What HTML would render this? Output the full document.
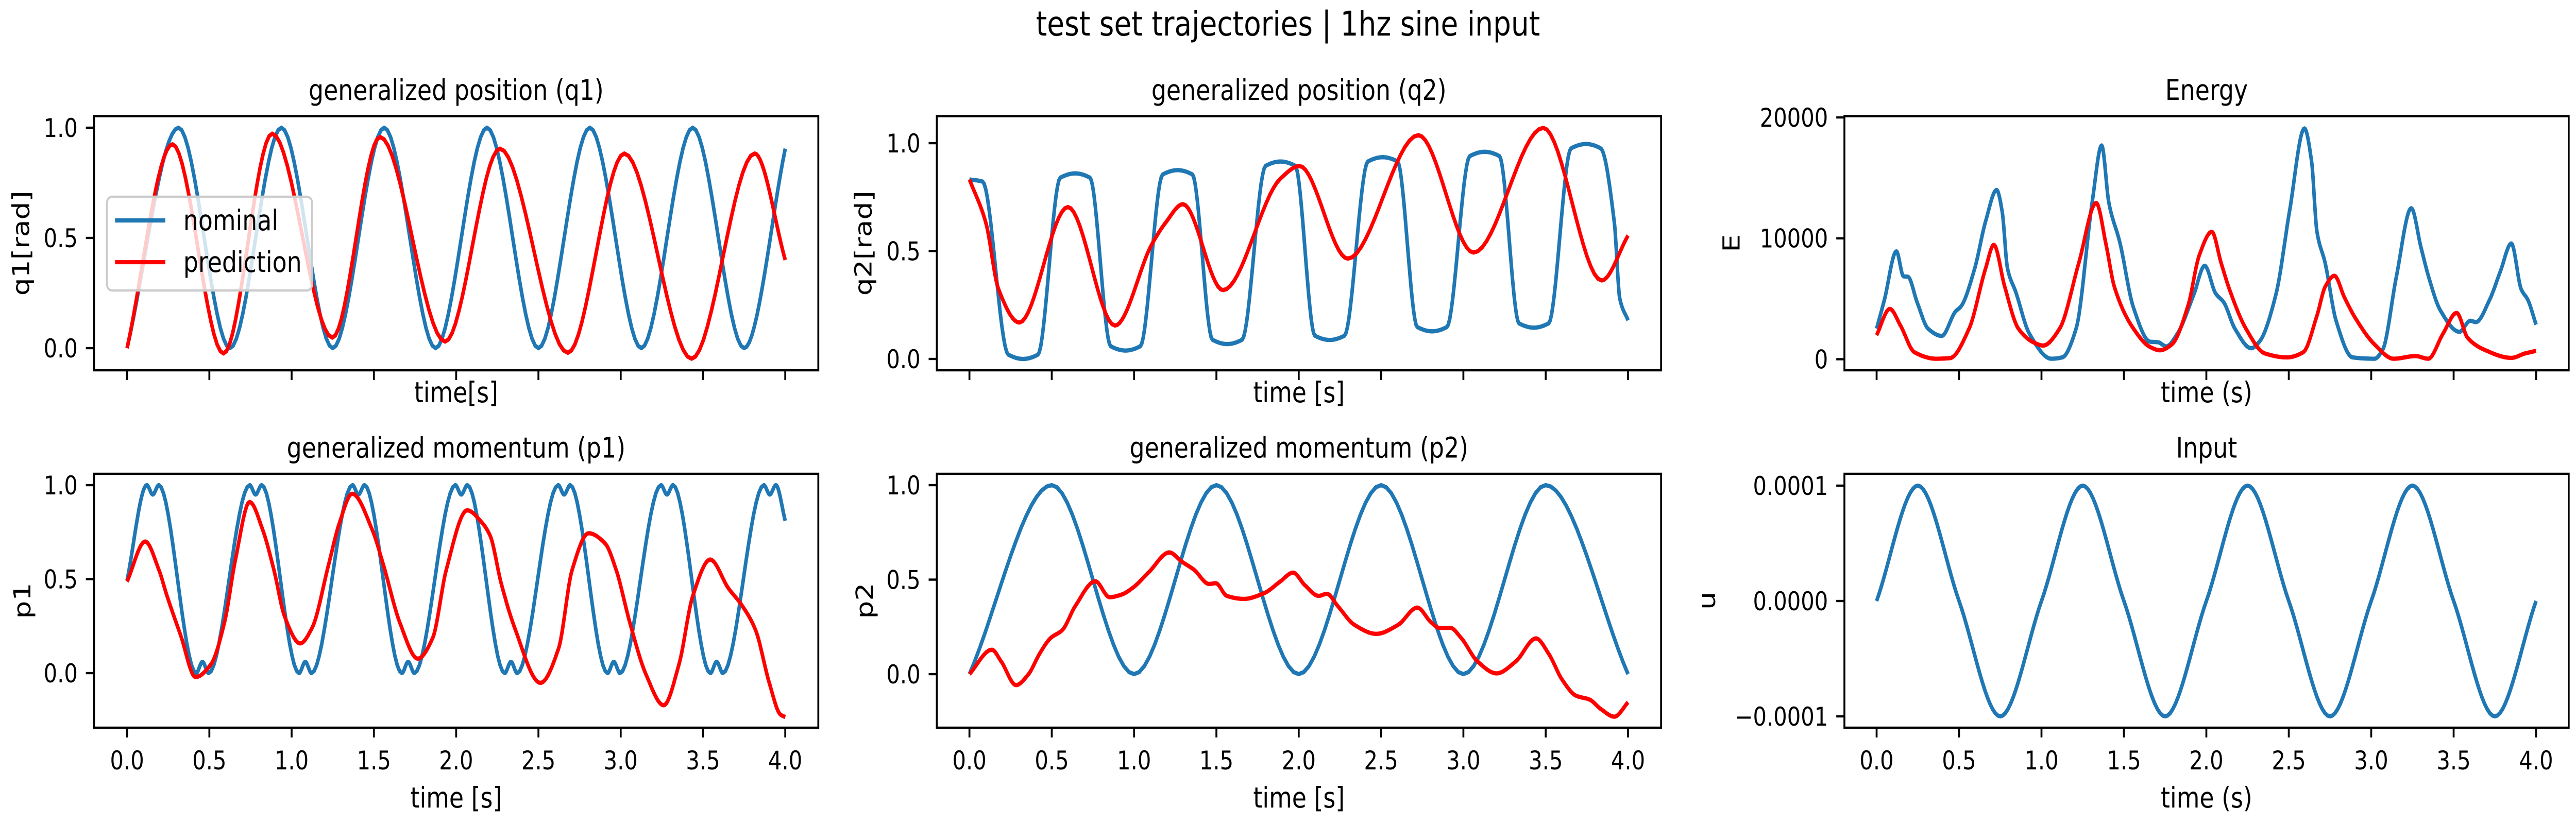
<!DOCTYPE html>
<html><head><meta charset="utf-8"><title>test set trajectories</title>
<style>
html,body{margin:0;padding:0;background:#fff;overflow:hidden;width:100vw;height:100vh;}
svg{display:block;width:100vw;height:100vh;font-family:"DejaVu Sans","Liberation Sans",sans-serif;}
</style></head>
<body>
<svg id="fig" viewBox="0 0 6000 1600" preserveAspectRatio="none" xmlns="http://www.w3.org/2000/svg">
<rect x="0" y="0" width="6000" height="1600" fill="#fff"/>
<text x="3000" y="69" font-size="66" text-anchor="middle">test set trajectories | 1hz sine input</text>
<g id="plots"></g>
</svg>
<script>
// ---------- data ----------
const xTickValues = [0, 0.5, 1.0, 1.5, 2.0, 2.5, 3.0, 3.5, 4.0];
const xTickLabels = ["0.0","0.5","1.0","1.5","2.0","2.5","3.0","3.5","4.0"];

const q1NomT = [0,0.3125,0.625,0.9375,1.25,1.5625,1.875,2.1875,2.5,2.8125,3.125,3.4375,3.75,4.0];
const q1NomV = [0,1,0,1,0,1,0,1,0,1,0,1,0,0.905];
const q1PredT = [0,0.276,0.586,0.882,1.248,1.537,1.933,2.266,2.679,3.022,3.431,3.814,4.0];
const q1PredV = [0,0.925,-0.024,0.973,0.048,0.958,0.030,0.905,-0.021,0.883,-0.048,0.883,0.40];

const q2NomT = [0,0.08,0.236,0.326,0.416,0.552,0.642,0.732,0.858,0.948,1.038,1.174,1.264,1.354,1.476,1.566,1.656,1.799,1.889,1.979,2.098,2.188,2.278,2.42,2.51,2.6,2.72,2.81,2.9,3.039,3.129,3.219,3.338,3.428,3.518,3.654,3.744,3.834,3.917,3.95,4.0];
const q2NomV = [0.832,0.822,0.02,0.0,0.02,0.84,0.86,0.84,0.059,0.039,0.059,0.855,0.875,0.855,0.089,0.069,0.089,0.895,0.915,0.895,0.108,0.088,0.108,0.915,0.935,0.915,0.148,0.128,0.148,0.94,0.96,0.94,0.165,0.145,0.165,0.976,0.996,0.976,0.63,0.28,0.179];
const q2PredT = [0,0.1,0.176,0.303,0.598,0.884,1.107,1.19,1.297,1.54,1.889,2.005,2.298,2.727,3.062,3.485,3.84,4.0];
const q2PredV = [0.832,0.63,0.325,0.169,0.704,0.155,0.53,0.63,0.717,0.319,0.836,0.894,0.465,1.037,0.493,1.071,0.364,0.572];

const eNomT = [0,0.047,0.12,0.163,0.19,0.246,0.312,0.395,0.478,0.512,0.595,0.661,0.728,0.761,0.794,0.844,0.927,1.06,1.126,1.21,1.309,1.365,1.409,1.475,1.558,1.658,1.708,1.757,1.824,1.924,1.99,2.056,2.106,2.173,2.272,2.322,2.422,2.505,2.595,2.638,2.671,2.721,2.787,2.887,3.02,3.07,3.153,3.243,3.302,3.352,3.419,3.535,3.601,3.635,3.718,3.784,3.85,3.91,3.95,4.0];
const eNomV = [2530,4900,8920,6860,6820,4700,2530,1930,3940,4370,7510,11400,14000,12270,7510,5560,2100,40,150,2530,13140,17680,12920,9680,4260,1450,1400,1060,2100,5350,7730,5450,4700,2530,910,1450,5350,12270,19090,16390,10540,7940,3180,150,40,800,6860,12490,9240,6640,4050,2270,3180,3070,4910,7290,9570,5780,4910,2860];
const ePredT = [0,0.08,0.146,0.229,0.362,0.445,0.561,0.661,0.711,0.777,0.86,0.96,1.01,1.11,1.226,1.332,1.392,1.442,1.558,1.658,1.718,1.791,1.89,1.957,2.033,2.09,2.14,2.24,2.355,2.488,2.588,2.671,2.721,2.777,2.837,2.904,3.02,3.136,3.269,3.346,3.435,3.518,3.585,3.684,3.85,3.934,4.0];
const ePredV = [1990,4160,2750,580,40,90,2530,7510,9460,6000,2530,1340,1130,2530,7940,12920,9460,6000,2530,1020,740,1230,4480,8590,10540,7940,5780,2530,480,150,580,3610,6000,6900,5130,3400,1230,40,260,40,2100,3830,1770,800,110,480,690];

const p1NomT = [0,0.12,0.156,0.193,0.42,0.458,0.496,0.745,0.781,0.818,1.045,1.083,1.121,1.37,1.406,1.443,1.67,1.708,1.746,1.995,2.031,2.068,2.295,2.333,2.371,2.62,2.656,2.693,2.92,2.958,2.996,3.245,3.281,3.318,3.545,3.583,3.621,3.87,3.906,3.943,4.0];
const p1NomV = [0.494,1,0.95,1,0,0.06,0,1,0.95,1,0,0.06,0,1,0.95,1,0,0.06,0,1,0.95,1,0,0.06,0,1,0.95,1,0,0.06,0,1,0.95,1,0,0.06,0,1,0.95,1,0.81];
const p1PredT = [0,0.11,0.193,0.243,0.326,0.416,0.509,0.592,0.659,0.745,0.825,0.892,0.958,1.052,1.125,1.225,1.291,1.368,1.491,1.557,1.657,1.767,1.857,1.94,2.067,2.157,2.207,2.273,2.356,2.512,2.622,2.705,2.805,2.905,2.972,3.055,3.155,3.261,3.354,3.438,3.544,3.654,3.737,3.82,3.903,3.97,4.0];
const p1PredV = [0.487,0.70,0.55,0.41,0.20,-0.021,0.046,0.27,0.606,0.91,0.76,0.55,0.30,0.158,0.242,0.578,0.80,0.954,0.76,0.578,0.27,0.077,0.186,0.55,0.866,0.80,0.73,0.48,0.24,-0.052,0.13,0.55,0.744,0.69,0.55,0.27,-0.01,-0.171,0.046,0.41,0.604,0.452,0.36,0.228,-0.052,-0.22,-0.234];

const p2NomT = [0,0.5,1.0,1.5,2.0,2.5,3.0,3.5,4.0];
const p2NomV = [0,1,0,1,0,1,0,1,0];
const p2PredT = [0,0.136,0.193,0.283,0.359,0.426,0.492,0.565,0.642,0.765,0.851,0.924,0.991,1.09,1.214,1.29,1.363,1.456,1.496,1.563,1.666,1.789,1.889,1.965,2.038,2.121,2.171,2.238,2.338,2.471,2.604,2.72,2.803,2.853,2.92,2.986,3.086,3.202,3.318,3.441,3.518,3.601,3.684,3.767,3.834,3.917,4.0];
const p2PredV = [0,0.129,0.067,-0.058,0,0.108,0.19,0.234,0.359,0.491,0.407,0.421,0.456,0.54,0.644,0.595,0.553,0.477,0.481,0.414,0.398,0.428,0.491,0.537,0.47,0.414,0.425,0.359,0.261,0.213,0.261,0.352,0.275,0.245,0.245,0.192,0.067,0.004,0.067,0.189,0.108,-0.031,-0.114,-0.135,-0.184,-0.225,-0.149];

const uT = [0,0.25,0.5,0.75,1.0,1.25,1.5,1.75,2.0,2.25,2.5,2.75,3.0,3.25,3.5,3.75,4.0];
const uV = [0,0.0001,0,-0.0001,0,0.0001,0,-0.0001,0,0.0001,0,-0.0001,0,0.0001,0,-0.0001,0];

const tickQ = [0, 0.5, 1.0];
const tickQLabels = ["0.0","0.5","1.0"];
const tickE = [0, 10000, 20000];
const tickELabels = ["0","10000","20000"];
const tickU = [-0.0001, 0, 0.0001];
const tickULabels = ["\u22120.0001","0.0000","0.0001"];

// ---------- layout ----------
const NS = "http://www.w3.org/2000/svg";
const BLUE = "#1f77b4", RED = "#ff0000";
const panels = [
 {name:"q1-panel", title:"generalized position (q1)", L:219,R:1906,T:225.5,B:719, x0:296,x4:1829, vA:0,pA:676,vB:1,pB:248,
  yt:tickQ, ytl:tickQLabels, ylab:"q1[rad]", ylx:48, xlab:"time[s]", showX:false,
  series:[["nominal",q1NomT,q1NomV,BLUE],["prediction",q1PredT,q1PredV,RED]], legend:true},
 {name:"q2-panel", title:"generalized position (q2)", L:2182,R:3869,T:225.5,B:719, x0:2258,x4:3792, vA:0,pA:697,vB:1,pB:278,
  yt:tickQ, ytl:tickQLabels, ylab:"q2[rad]", ylx:2010, xlab:"time [s]", showX:false,
  series:[["nominal",q2NomT,q2NomV,BLUE],["prediction",q2PredT,q2PredV,RED]]},
 {name:"energy-panel", title:"Energy", L:4296,R:5983,T:225.5,B:719, x0:4371,x4:5907, vA:0,pA:697.5,vB:20000,pB:228,
  yt:tickE, ytl:tickELabels, ylab:"E", ylx:4032, xlab:"time (s)", showX:false,
  series:[["nominal",eNomT,eNomV,BLUE],["prediction",ePredT,ePredV,RED]]},
 {name:"p1-panel", title:"generalized momentum (p1)", L:219,R:1906,T:920,B:1413, x0:296,x4:1829, vA:0,pA:1307,vB:1,pB:942,
  yt:tickQ, ytl:tickQLabels, ylab:"p1", ylx:51, xlab:"time [s]", showX:true,
  series:[["nominal",p1NomT,p1NomV,BLUE],["prediction",p1PredT,p1PredV,RED]]},
 {name:"p2-panel", title:"generalized momentum (p2)", L:2182,R:3869,T:920,B:1413, x0:2258,x4:3792, vA:0,pA:1309,vB:1,pB:942,
  yt:tickQ, ytl:tickQLabels, ylab:"p2", ylx:2013, xlab:"time [s]", showX:true,
  series:[["nominal",p2NomT,p2NomV,BLUE],["prediction",p2PredT,p2PredV,RED]]},
 {name:"input-panel", title:"Input", L:4296,R:5983,T:920,B:1413, x0:4371,x4:5907, vA:0,pA:1167,vB:0.0001,pB:943,
  yt:tickU, ytl:tickULabels, ylab:"u", ylx:3975, xlab:"time (s)", showX:true,
  series:[["input",uT,uV,BLUE]]}
];

function mk(tag, attrs, parent){
  const e = document.createElementNS(NS, tag);
  for (const k in attrs) e.setAttribute(k, attrs[k]);
  parent.appendChild(e);
  return e;
}

// Fritsch-Carlson monotone cubic
function monotone(xs, ys){
  const n = xs.length, d = [], m = new Array(n);
  for (let i=0;i<n-1;i++) d.push((ys[i+1]-ys[i])/(xs[i+1]-xs[i]));
  m[0] = d[0]; m[n-1] = d[n-2];
  for (let i=1;i<n-1;i++){
    if (d[i-1]*d[i] <= 0) m[i] = 0;
    else {
      const h0 = xs[i]-xs[i-1], h1 = xs[i+1]-xs[i];
      const w1 = 2*h1+h0, w2 = h1+2*h0;
      m[i] = (w1+w2)/(w1/d[i-1]+w2/d[i]);
    }
  }
  const pts = [];
  for (let i=0;i<n-1;i++){
    const h = xs[i+1]-xs[i], S = 16;
    for (let s=0;s<S;s++){
      const u = s/S, u2=u*u, u3=u2*u;
      const y = (2*u3-3*u2+1)*ys[i] + (u3-2*u2+u)*h*m[i] + (-2*u3+3*u2)*ys[i+1] + (u3-u2)*h*m[i+1];
      pts.push([xs[i]+u*h, y]);
    }
  }
  pts.push([xs[n-1], ys[n-1]]);
  return pts;
}

const root = document.getElementById("plots");
panels.forEach(p => {
  const g = mk("g", {}, root);
  
  
  const xs = t => p.x0 + t/4*(p.x4-p.x0);
  const ys = v => p.pA + (v-p.vA)*(p.pB-p.pA)/(p.vB-p.vA);

  const title = mk("text", {x:(p.L+p.R)/2, y:p.T-31.5, "font-size":55, "text-anchor":"middle"}, g);
  title.textContent = p.title;
  
  

  p.series.forEach(s => {
    const pts = monotone(s[1], s[2]);
    const d = pts.map((q,i)=>(i?"L":"M")+xs(q[0]).toFixed(1)+","+ys(q[1]).toFixed(1)).join("");
    const path = mk("path", {d:d, fill:"none", stroke:s[3], "stroke-width":8.3, "stroke-linejoin":"round", "stroke-linecap":"butt"}, g);
    
    
  });

  const fr = mk("rect", {x:p.L, y:p.T, width:p.R-p.L, height:p.B-p.T, fill:"none", stroke:"#000", "stroke-width":4.4}, g);
  
  

  xTickValues.forEach((t,i) => {
    const x = xs(t);
    const tk = mk("line", {x1:x, y1:p.B, x2:x, y2:p.B+19, stroke:"#000", "stroke-width":4.4}, g);
    
    
    if (p.showX){
      const tl = mk("text", {x:x, y:p.B+81, "font-size":50, "text-anchor":"middle"}, g);
      tl.textContent = xTickLabels[i];
      
      
    }
  });
  p.yt.forEach((v,i) => {
    const y = ys(v);
    const tk = mk("line", {x1:p.L-19, y1:y, x2:p.L, y2:y, stroke:"#000", "stroke-width":4.4}, g);
    
    
    const tl = mk("text", {x:p.L-38, y:y+18, "font-size":50, "text-anchor":"end"}, g);
    tl.textContent = p.ytl[i];
    
    
  });
  const xl = mk("text", {x:(p.L+p.R)/2, y:p.showX ? p.B+155 : p.B+62, "font-size":55, "text-anchor":"middle"}, g);
  xl.textContent = p.xlab;
  
  
  const cy = (p.T+p.B)/2;
  const yl = mk("text", {x:p.ylx+20, y:cy, "font-size":55, "text-anchor":"middle", transform:"rotate(-90 "+(p.ylx+20)+" "+cy+")"}, g);
  yl.textContent = p.ylab;
  
  

  if (p.legend){
    const lg = mk("g", {}, g);
    
    
    const box = mk("rect", {x:249, y:382, width:478, height:182, rx:12, fill:"#fff", "fill-opacity":0.8, stroke:"#cccccc", "stroke-width":4.4}, lg);
    
    
    const entries = [["nominal", BLUE, 428], ["prediction", RED, 509]];
    entries.forEach(en => {
      const ln = mk("line", {x1:268, y1:en[2], x2:385, y2:en[2], stroke:en[1], "stroke-width":8.3}, lg);
      
      
      const tx = mk("text", {x:427, y:en[2]+19, "font-size":55}, lg);
      tx.textContent = en[0];
      
      
    });
  }
});
</script>
</body></html>
